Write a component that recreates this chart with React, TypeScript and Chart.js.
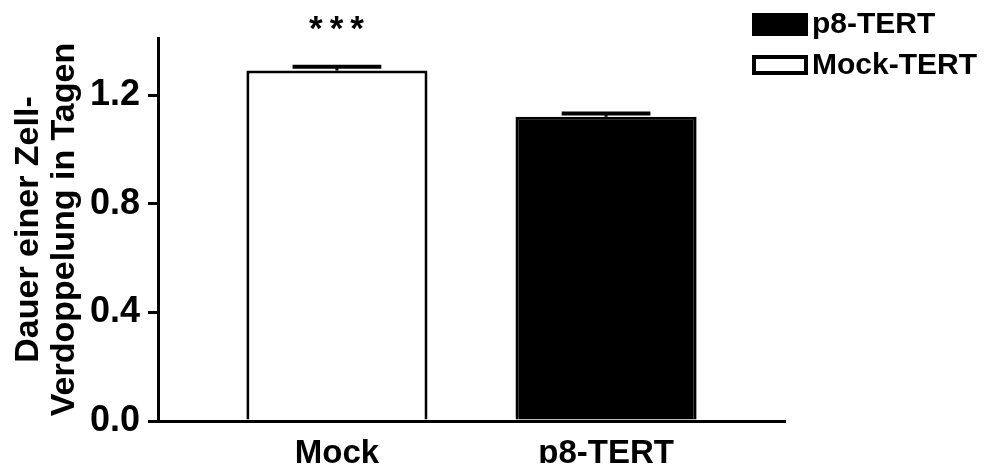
import { useEffect, useRef } from 'react';
import { Chart, registerables } from 'chart.js';

Chart.register(...registerables);

const categories = ['Mock', 'p8-TERT'];
const means = [1.29, 1.12];
const sems = [0.014, 0.012];
const significance = ['***', ''];
const yTicks = [0, 0.4, 0.8, 1.2];
const legendLabels = ['p8-TERT', 'Mock-TERT'];
const yTitle = ['Dauer einer Zell-', 'Verdoppelung in Tagen'];

const FONT = "'Liberation Sans', Arial, Helvetica, sans-serif";

const errorBarPlugin = {
  id: 'errorBars',
  afterDatasetsDraw(chart: any) {
    const ctx = chart.ctx;
    const yScale = chart.scales.y;
    ctx.save();
    chart.data.datasets.forEach((ds: any, di: number) => {
      const meta = chart.getDatasetMeta(di);
      meta.data.forEach((bar: any, i: number) => {
        const idx = ds.data[i].x;
        const top = yScale.getPixelForValue(means[idx] + sems[idx]);
        const half = bar.width * 0.245;
        ctx.strokeStyle = '#000';
        ctx.lineWidth = 3;
        ctx.beginPath();
        ctx.moveTo(bar.x, bar.y);
        ctx.lineTo(bar.x, top);
        ctx.stroke();
        ctx.lineWidth = 4;
        ctx.beginPath();
        ctx.moveTo(bar.x - half, top);
        ctx.lineTo(bar.x + half, top);
        ctx.stroke();
        const sig = significance[idx];
        if (sig) {
          ctx.fillStyle = '#000';
          ctx.font = `bold 35px ${FONT}`;
          ctx.textAlign = 'center';
          ctx.textBaseline = 'alphabetic';
          (ctx as any).letterSpacing = '7px';
          ctx.fillText(sig, bar.x + 3, top - 27);
          (ctx as any).letterSpacing = '0px';
        }
      });
    });
    ctx.restore();
  },
};

const legendPlugin = {
  id: 'customLegend',
  afterDraw(chart: any) {
    const ctx = chart.ctx;
    const x0 = chart.width - 230;
    ctx.save();
    ctx.font = `bold 30px ${FONT}`;
    ctx.textAlign = 'left';
    ctx.textBaseline = 'middle';
    legendLabels.forEach((label, i) => {
      const ds = chart.data.datasets.find((d: any) => d.label === label);
      const cy = 16 + i * 41;
      if (ds.backgroundColor === '#000000') {
        ctx.fillStyle = '#000';
        ctx.fillRect(x0, cy - 11, 56, 23);
      } else {
        ctx.fillStyle = '#000';
        ctx.fillRect(x0, cy - 10, 56, 20);
        ctx.fillStyle = '#fff';
        ctx.fillRect(x0 + 4, cy - 6, 48, 12);
      }
      ctx.fillStyle = '#000';
      ctx.fillText(label, x0 + 60, cy + 1);
    });
    ctx.restore();
  },
};

export default function App() {
  const ref = useRef<HTMLCanvasElement>(null);
  useEffect(() => {
    if (!ref.current) return;
    const barOpts = {
      grouped: false,
      barPercentage: 0.673,
      categoryPercentage: 1,
      borderWidth: 3,
      borderColor: '#000000',
      borderSkipped: 'start',
    };
    const chart = new Chart(ref.current, {
      type: 'bar',
      data: {
        datasets: [
          {
            label: legendLabels[0],
            data: [{ x: 1, y: means[1] }],
            backgroundColor: '#000000',
            ...barOpts,
          },
          {
            label: legendLabels[1],
            data: [{ x: 0, y: means[0] }],
            backgroundColor: '#ffffff',
            ...barOpts,
          },
        ],
      } as any,
      options: {
        animation: false,
        responsive: true,
        maintainAspectRatio: false,
        layout: { padding: { top: 30, right: 197, left: 0, bottom: 0 } },
        plugins: { legend: { display: false }, tooltip: { enabled: false } },
        scales: {
          x: {
            type: 'linear',
            offset: false,
            min: -0.665,
            max: 1.665,
            afterBuildTicks: (s: any) => {
              s.ticks = categories.map((_, i) => ({ value: i }));
            },
            afterFit: (s: any) => {
              s.height = 42;
            },
            grid: { display: false, drawTicks: false, offset: false },
            border: { display: true, color: '#000', width: 3 },
            ticks: {
              color: '#000',
              font: { family: FONT, size: 33, weight: 'bold' },
              padding: 13,
              maxRotation: 0,
              autoSkip: false,
              callback: (v: any) => categories[v] ?? '',
            },
          },
          y: {
            min: 0,
            max: 1.41,
            afterBuildTicks: (s: any) => {
              s.ticks = yTicks.map((v) => ({ value: v }));
            },
            afterFit: (s: any) => {
              s.width = 150;
            },
            grid: {
              drawOnChartArea: false,
              drawTicks: true,
              tickLength: 10,
              color: '#000',
              lineWidth: 3,
            },
            border: { display: true, color: '#000', width: 3 },
            ticks: {
              color: '#000',
              font: { family: FONT, size: 36, weight: 'bold' },
              padding: 8,
              callback: (v: any) => Number(v).toFixed(1),
            },
            title: {
              display: true,
              text: yTitle,
              color: '#000',
              font: { family: FONT, size: 34, weight: 'bold', lineHeight: 1.05 },
              padding: { top: 3, bottom: 0 },
            },
          },
        },
      } as any,
      plugins: [errorBarPlugin, legendPlugin],
    });
    return () => chart.destroy();
  }, []);
  return (
    <div style={{ width: 974, height: 455 }}>
      <canvas ref={ref} />
    </div>
  );
}
